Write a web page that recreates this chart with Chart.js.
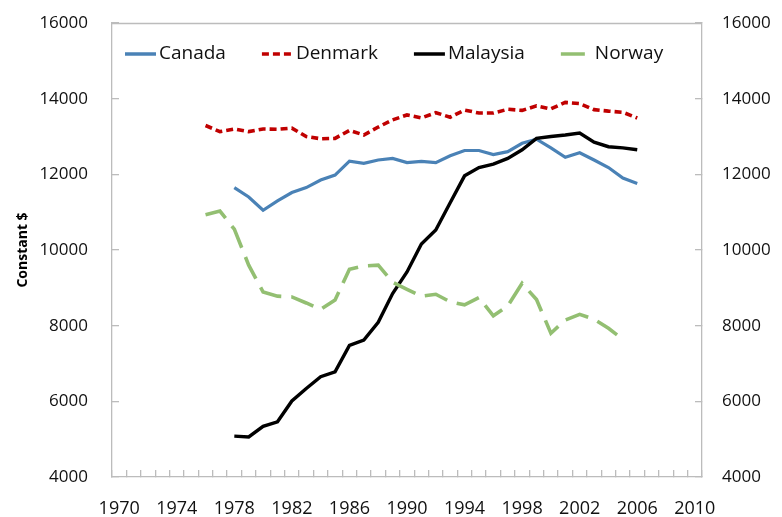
<!DOCTYPE html>
<html>
<head>
<meta charset="utf-8">
<script src="https://cdn.jsdelivr.net/npm/chart.js@4.4.1/dist/chart.umd.min.js"></script>
<style>
  html, body { margin: 0; padding: 0; background: #fff; }
  #wrap { width: 782px; height: 517px; }
</style>
</head>
<body>
<div id="wrap"><canvas id="chart" width="782" height="517"></canvas></div>
<script>
  // Years on the category axis (1970-2010)
  const years = [1970, 1971, 1972, 1973, 1974, 1975, 1976, 1977, 1978, 1979,
    1980, 1981, 1982, 1983, 1984, 1985, 1986, 1987, 1988, 1989,
    1990, 1991, 1992, 1993, 1994, 1995, 1996, 1997, 1998, 1999,
    2000, 2001, 2002, 2003, 2004, 2005, 2006, 2007, 2008, 2009, 2010];

  // Constant $ values, null where a country has no data
  const canada = [null, null, null, null, null, null, null, null, 11650, 11400,
    11050, 11300, 11520, 11650, 11850, 11980, 12350, 12290, 12380, 12420,
    12310, 12340, 12310, 12490, 12630, 12630, 12520, 12600, 12820, 12930,
    12700, 12450, 12570, 12380, 12180, 11900, 11760, null, null, null, null];
  const denmark = [null, null, null, null, null, null, 13290, 13130, 13200, 13130,
    13200, 13190, 13220, 13000, 12940, 12950, 13160, 13040, 13250, 13440,
    13570, 13490, 13630, 13510, 13700, 13620, 13620, 13720, 13690, 13810,
    13730, 13900, 13870, 13710, 13670, 13640, 13490, null, null, null, null];
  const malaysia = [null, null, null, null, null, null, null, null, 5080, 5060,
    5340, 5460, 6010, 6340, 6650, 6780, 7480, 7620, 8090, 8850,
    9420, 10160, 10530, 11250, 11960, 12180, 12270, 12420, 12650, 12950,
    13000, 13040, 13090, 12850, 12730, 12700, 12650, null, null, null, null];
  const norway = [null, null, null, null, null, null, 10930, 11030, 10550, 9600,
    8890, 8780, 8760, 8600, 8430, 8680, 9490, 9580, 9600, 9150,
    8960, 8780, 8830, 8630, 8550, 8740, 8260, 8520, 9120, 8690,
    7800, 8150, 8300, 8170, 7930, 7640, null, null, null, null, null];

  const yTicks = [4000, 6000, 8000, 10000, 12000, 14000, 16000];

  const axisGray = '#bcbcbc';
  Chart.defaults.font.family = "'Open Sans', 'DejaVu Sans', sans-serif";
  Chart.defaults.color = '#111';

  // Legend sits inside the plot box, so draw it ourselves from the datasets.
  const insideLegend = {
    id: 'insideLegend',
    afterDraw(chart) {
      const ctx = chart.ctx,
        y = chart.chartArea.top + 31;
      let x = chart.chartArea.left + 13;
      ctx.save();
      ctx.font = "19px 'Open Sans', sans-serif";
      ctx.textBaseline = 'middle';
      chart.data.datasets.forEach((ds) => {
        ctx.beginPath();
        ctx.setLineDash(ds.legendDash || []);
        ctx.strokeStyle = ds.borderColor;
        ctx.lineWidth = 3.5;
        ctx.moveTo(x, y);
        ctx.lineTo(x + 31, y);
        ctx.stroke();
        ctx.setLineDash([]);
        ctx.fillStyle = '#111';
        ctx.fillText(ds.label, x + 34, y);
        x += 34 + ctx.measureText(ds.label).width + 36;
      });
      ctx.restore();
    }
  };

  // Top edge of the plot box (the axes draw the other three sides)
  const topEdge = {
    id: 'topEdge',
    beforeDatasetsDraw(chart) {
      const {ctx, chartArea} = chart;
      ctx.save();
      ctx.strokeStyle = axisGray;
      ctx.lineWidth = 1.3;
      ctx.beginPath();
      ctx.moveTo(chartArea.left, chartArea.top + 0.5);
      ctx.lineTo(chartArea.right, chartArea.top + 0.5);
      ctx.stroke();
      ctx.restore();
    }
  };

  const yAxis = (position, width, pad) => ({
    type: 'linear',
    position: position,
    min: yTicks[0],
    max: yTicks[yTicks.length - 1],
    afterBuildTicks: (s) => { s.ticks = yTicks.map((v) => ({ value: v })); },
    // fixed width, and no extra room for the end labels: keeps the plot box where the original has it
    afterFit: (s) => { s.width = width; s.paddingTop = 0; s.paddingBottom = 0; },
    border: { color: axisGray, width: 1.3 },
    grid: { drawOnChartArea: false, tickLength: -7, color: axisGray, lineWidth: 1.3 },
    ticks: { padding: pad, font: { size: 17 }, color: '#111', callback: (v) => String(v) }
  });

  new Chart(document.getElementById('chart').getContext('2d'), {
    type: 'line',
    data: {
      labels: years,
      datasets: [
        { label: 'Canada', data: canada, borderColor: '#4a82b6', borderWidth: 3.2, order: 3 },
        { label: 'Denmark', data: denmark, borderColor: '#c00000', borderWidth: 3.6,
          borderDash: [7, 4], legendDash: [7, 4], order: 2 },
        { label: 'Malaysia', data: malaysia, borderColor: '#000000', borderWidth: 3.4, order: 1 },
        { label: 'Norway', data: norway, borderColor: '#93bf72', borderWidth: 3.6,
          borderDash: [24, 10], legendDash: [24, 10], order: 0 }
      ]
    },
    options: {
      responsive: false,
      animation: false,
      layout: { padding: { top: 23, left: 0, right: 0, bottom: 0 } },
      elements: { point: { radius: 0, hoverRadius: 0 }, line: { tension: 0, fill: false } },
      plugins: { legend: { display: false }, tooltip: { enabled: false } },
      scales: {
        x: {
          type: 'category',
          offset: true,
          afterFit: (s) => { s.height = 40; },
          border: { color: axisGray, width: 1.3 },
          grid: { offset: true, drawOnChartArea: false, tickLength: -7, color: axisGray, lineWidth: 1.3 },
          ticks: {
            autoSkip: false,
            maxRotation: 0,
            padding: 28,
            font: { size: 18 },
            color: '#111',
            callback: (v, i) => ((years[i] - 1970) % 4 === 0 ? String(years[i]) : '')
          }
        },
        y: Object.assign(yAxis('left', 112, 31), {
          title: { display: true, text: 'Constant $', color: '#000',
            font: { size: 14, weight: 'bold' }, padding: { top: 15, bottom: 0 } }
        }),
        y2: yAxis('right', 80, 27)
      }
    },
    plugins: [insideLegend, topEdge]
  });
</script>
</body>
</html>
